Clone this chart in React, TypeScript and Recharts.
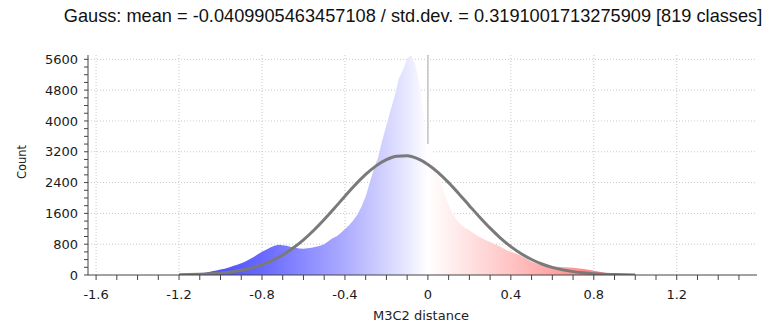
import React from 'react';
import { ComposedChart, Area, Line, XAxis, YAxis, CartesianGrid } from 'recharts';

const titleText = 'Gauss: mean = -0.0409905463457108 / std.dev. = 0.3191001713275909 [819 classes]';
const xLabel = 'M3C2 distance';
const yLabel = 'Count';

const binCenters = [
  -1.2, -1.18, -1.16, -1.14, -1.12, -1.1, -1.08, -1.06, -1.04, -1.02,
  -1.0, -0.98, -0.96, -0.94, -0.92, -0.9, -0.88, -0.86, -0.84, -0.82,
  -0.8, -0.78, -0.76, -0.74, -0.72, -0.7, -0.68, -0.66, -0.64, -0.62,
  -0.6, -0.58, -0.56, -0.54, -0.52, -0.5, -0.48, -0.46, -0.44, -0.42,
  -0.4, -0.38, -0.36, -0.34, -0.32, -0.3, -0.28, -0.26, -0.24, -0.22,
  -0.2, -0.18, -0.16, -0.14, -0.12, -0.1, -0.08, -0.06, -0.04, -0.02,
  0.0, 0.02, 0.04, 0.06, 0.08, 0.1, 0.12, 0.14, 0.16, 0.18,
  0.2, 0.22, 0.24, 0.26, 0.28, 0.3, 0.32, 0.34, 0.36, 0.38,
  0.4, 0.42, 0.44, 0.46, 0.48, 0.5, 0.52, 0.54, 0.56, 0.58,
  0.6, 0.62, 0.64, 0.66, 0.68, 0.7, 0.72, 0.74, 0.76, 0.78,
  0.8, 0.82, 0.84, 0.86, 0.88, 0.9, 0.92, 0.94, 0.96, 0.98, 1.0,
];
const binCounts = [
  5, 8, 12, 18, 26, 40, 55, 72, 96, 118,
  146, 164, 196, 232, 268, 306, 352, 412, 468, 540,
  602, 658, 712, 758, 786, 774, 762, 728, 706, 688,
  680, 692, 708, 734, 762, 800, 878, 952, 1004, 1088,
  1196, 1290, 1418, 1570, 1780, 2040, 2400, 2760, 3060, 3500,
  3880, 4280, 4650, 5100, 5320, 5620, 5710, 5460, 4920, 4120,
  3520, 3080, 2760, 2420, 2090, 1810, 1590, 1420, 1300, 1220,
  1160, 1084, 1012, 962, 902, 858, 804, 758, 702, 644,
  602, 566, 522, 468, 412, 342, 302, 268, 246, 232,
  220, 214, 206, 198, 194, 186, 174, 164, 150, 132,
  110, 90, 70, 54, 40, 28, 18, 10, 6, 3, 1,
];

const gaussX = [
  -1.2, -1.15, -1.1, -1.05, -1.0, -0.95, -0.9, -0.85, -0.8, -0.75,
  -0.7, -0.65, -0.6, -0.55, -0.5, -0.45, -0.4, -0.35, -0.3, -0.25,
  -0.2, -0.15, -0.1, -0.05, 0.0, 0.05, 0.1, 0.15, 0.2, 0.25,
  0.3, 0.35, 0.4, 0.45, 0.5, 0.55, 0.6, 0.65, 0.7, 0.75,
  0.8, 0.85, 0.9, 0.95, 1.0,
];
const gaussY = [
  6, 11, 19, 32, 51, 80, 123, 183, 267, 378,
  520, 699, 913, 1162, 1441, 1739, 2045, 2341, 2610, 2834,
  2997, 3085, 3093, 3020, 2872, 2660, 2398, 2106, 1801, 1500,
  1216, 960, 738, 553, 403, 286, 198, 133, 88, 56,
  35, 21, 12, 6, 3,
];

// vertical marker at zero (visible above the histogram only)
const zeroMarkX = [0, 0];
const zeroMarkY = [3400, 5712];

const xTicks = [
  -1.6, -1.5, -1.4, -1.3, -1.2, -1.1, -1.0, -0.9, -0.8, -0.7, -0.6, -0.5, -0.4, -0.3, -0.2, -0.1,
  0, 0.1, 0.2, 0.3, 0.4, 0.5, 0.6, 0.7, 0.8, 0.9, 1.0, 1.1, 1.2, 1.3, 1.4, 1.5,
];
const xMajor = [-1.6, -1.2, -0.8, -0.4, 0, 0.4, 0.8, 1.2];
const yTicks = [
  0, 200, 400, 600, 800, 1000, 1200, 1400, 1600, 1800, 2000, 2200, 2400, 2600, 2800, 3000,
  3200, 3400, 3600, 3800, 4000, 4200, 4400, 4600, 4800, 5000, 5200, 5400, 5600,
];
const yMajor = [0, 800, 1600, 2400, 3200, 4000, 4800, 5600];

const histData = binCenters.map((x, i) => ({ x, count: binCounts[i] }));
const gaussData = gaussX.map((x, i) => ({ x, g: gaussY[i] }));
const zeroData = zeroMarkX.map((x, i) => ({ x, z: zeroMarkY[i] }));

const axisFont = '"DejaVu Sans", sans-serif';

const isMajorX = (v: number) => xMajor.some((m) => Math.abs(m - v) < 1e-6);
const isMajorY = (v: number) => yMajor.includes(v);

const fmtX = (v: number) => {
  if (!isMajorX(v)) return '';
  if (Math.abs(v) < 1e-9) return '0';
  return v.toFixed(1);
};
const fmtY = (v: number) => (isMajorY(v) ? String(v) : '');

export default function App() {
  return (
    <div style={{ position: 'absolute', left: 0, top: 0, width: 769, height: 327, background: '#fff', overflow: 'hidden' }}>
      <div
        style={{
          position: 'absolute',
          left: 0,
          top: 6,
          width: 826,
          textAlign: 'center',
          fontFamily: '"Liberation Sans", Arial, sans-serif',
          fontSize: 18.2,
          color: '#111',
          whiteSpace: 'nowrap',
          lineHeight: '20px',
        }}
      >
        {titleText}
      </div>
      <div
        style={{
          position: 'absolute',
          left: 22,
          top: 162,
          transform: 'translate(-50%, -50%) rotate(-90deg)',
          fontFamily: axisFont,
          fontSize: 11.5,
          color: '#222',
          whiteSpace: 'nowrap',
        }}
      >
        {yLabel}
      </div>
      <div
        style={{
          position: 'absolute',
          left: 0,
          width: 842,
          top: 308,
          textAlign: 'center',
          fontFamily: axisFont,
          fontSize: 13,
          color: '#222',
          whiteSpace: 'nowrap',
          lineHeight: '16px',
        }}
      >
        {xLabel}
      </div>
      <div style={{ position: 'absolute', left: 0, top: 0 }}>
        <ComposedChart
          width={769}
          height={327}
          margin={{ top: 55, right: 12, bottom: 22, left: 28 }}
        >
          <defs>
            <linearGradient id="histGrad" x1="0" y1="0" x2="1" y2="0">
              <stop offset="0" stopColor="#3c3cff" />
              <stop offset="0.182" stopColor="#6868ff" />
              <stop offset="0.364" stopColor="#acacff" />
              <stop offset="0.5" stopColor="#e8e8ff" />
              <stop offset="0.545" stopColor="#ffffff" />
              <stop offset="0.727" stopColor="#ffc4c4" />
              <stop offset="0.909" stopColor="#ff8484" />
              <stop offset="1" stopColor="#ff6666" />
            </linearGradient>
          </defs>
          <CartesianGrid
            stroke="#c8c8c8"
            strokeDasharray="1 2"
            verticalValues={xMajor}
            horizontalValues={yMajor.filter((v) => v > 0)}
          />
          <XAxis
            dataKey="x"
            type="number"
            domain={[-1.639, 1.587]}
            allowDataOverflow
            ticks={xTicks}
            tickFormatter={fmtX}
            interval={0}
            height={30}
            tickSize={5}
            tickMargin={10}
            stroke="#444"
            tick={{ fill: '#1a1a1a', fontFamily: axisFont, fontSize: 13 }}
          />
          <YAxis
            type="number"
            domain={[0, 5712]}
            allowDataOverflow
            ticks={yTicks}
            tickFormatter={fmtY}
            interval={0}
            width={60}
            tickSize={4}
            tickMargin={6}
            stroke="#444"
            tick={{ fill: '#1a1a1a', fontFamily: axisFont, fontSize: 13 }}
          />
          <Line
            data={zeroData}
            dataKey="z"
            type="linear"
            stroke="#c4c4c4"
            strokeWidth={1.5}
            dot={false}
            activeDot={false}
            isAnimationActive={false}
          />
          <Area
            data={histData}
            dataKey="count"
            type="linear"
            stroke="none"
            fill="url(#histGrad)"
            fillOpacity={1}
            isAnimationActive={false}
            dot={false}
            activeDot={false}
          />
          <Line
            data={gaussData}
            dataKey="g"
            type="monotone"
            stroke="#7a7a7a"
            strokeWidth={3}
            dot={false}
            activeDot={false}
            isAnimationActive={false}
          />
        </ComposedChart>
      </div>
    </div>
  );
}
